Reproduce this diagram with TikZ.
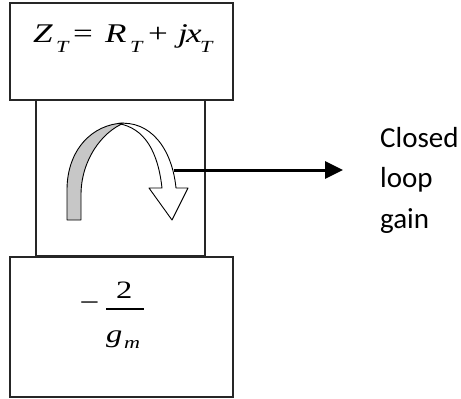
\documentclass[tikz,border=0pt]{standalone}
\usepackage{fontspec}
\newfontfamily\carl{Carlito}
\newfontfamily\tmsw[FakeStretch=1.3]{Liberation Serif}
\usetikzlibrary{arrows.meta}
\tikzset{
  box/.style={draw=black!85, line width=1.3pt, rectangle, inner sep=0pt},
  big/.style={inner sep=0pt, anchor=base west, font=\tmsw\itshape\fontsize{27}{32}\selectfont},
  bigup/.style={inner sep=0pt, anchor=base west, font=\tmsw\fontsize{27}{32}\selectfont},
  sub/.style={inner sep=0pt, anchor=base west, font=\tmsw\itshape\fontsize{17}{20}\selectfont},
  frac/.style={inner sep=0pt, anchor=base west, font=\tmsw\fontsize{25}{30}\selectfont},
  ribbon/.style={draw=black, line width=0.9pt, line join=round},
  conn/.style={line width=3pt, -{Triangle[length=18pt,width=17pt]}},
}
\begin{document}
\begin{tikzpicture}[x=1pt,y=-1pt]
\useasboundingbox (0,0) rectangle (461,399);
% boxes
\node[box, minimum width=223pt, minimum height=97pt] (topbox) at (121.5,51.5) {};
\node[box, minimum width=169pt, minimum height=156pt] (midbox) at (120.5,178) {};
\node[box, minimum width=223pt, minimum height=140pt] (botbox) at (121.5,327) {};
% top formula  Z_T = R_T + j x_T
\node[big] (z) at (33,42) {Z};
\node[sub] (zs) at (56,52) {T};
\node[bigup] (eq) at (73,42) {=};
\node[big] (r) at (105,42) {R};
\node[sub] (rs) at (130,52) {T};
\node[bigup] (pl) at (148,42) {+};
\node[big] (j) at (178,42) {j};
\node[big] (x) at (186,42) {x};
\node[sub] (xs) at (200,52) {T};
% bottom formula  - 2/g_m
\node[inner sep=0pt, font=\tmsw\fontsize{27}{30}\selectfont] (mn) at (89.5,306.5) {−};
\node[frac] (two) at (116,298) {2};
\node[inner sep=0pt, anchor=base west, font=\tmsw\itshape\fontsize{25}{30}\selectfont] (g) at (106,342) {g};
\node[sub] (m) at (124,348) {m};
\coordinate (barl) at (106,309);
\coordinate (barr) at (144,309);
\draw[line width=1.3pt] (barl) -- (barr);
% curved arrow
\path[ribbon, fill=black!22] (67,220) -- (67,190) .. controls (67,150) and (92,124) .. (124,123)
  .. controls (102,132) and (81,160) .. (81,195) -- (81,220) -- cycle;
\path[ribbon, fill=white] (118,123.5) .. controls (150,120) and (172,148) .. (176,188)
  -- (188,188) -- (172,220) -- (149,188) -- (162,188)
  .. controls (158,152) and (145,128) .. (118,123.5) -- cycle;
% label
\node[inner sep=0pt, anchor=base west, align=left, font=\carl\fontsize{29}{40.5}\selectfont] (cl) at (380,228)
  {Closed\\loop\\gain};
\coordinate (lstart) at (173.5,170);
\draw[conn, shorten >=37pt] (lstart) -- (lstart -| cl.west);
\end{tikzpicture}
\end{document}
